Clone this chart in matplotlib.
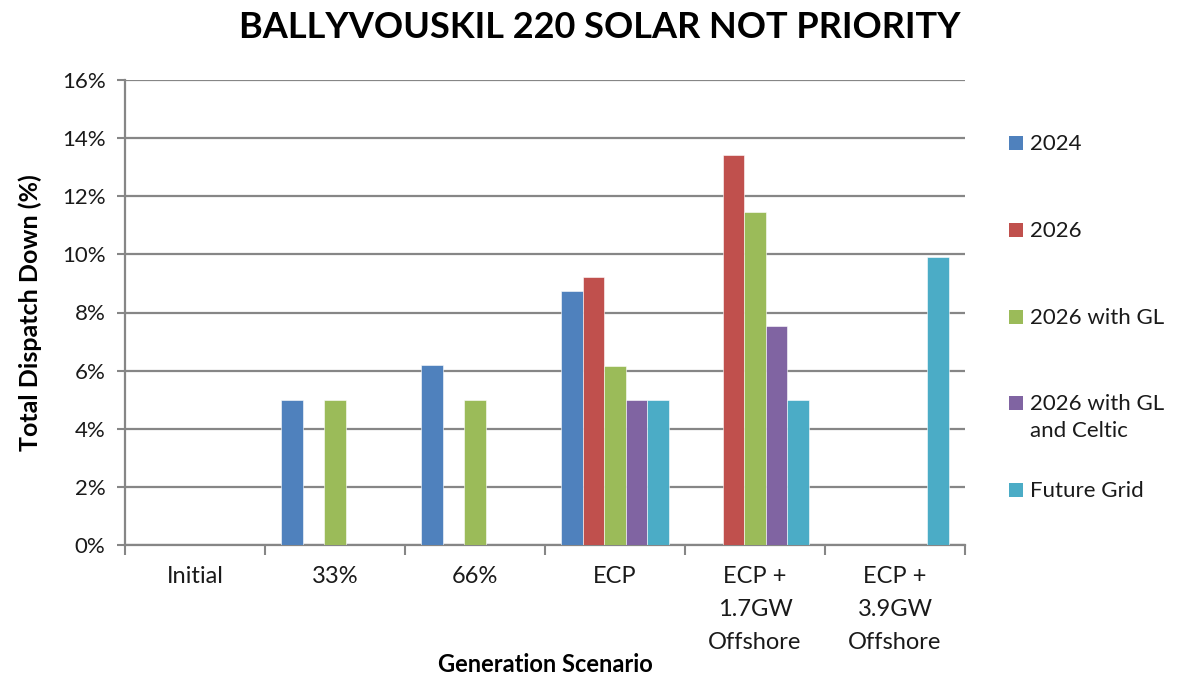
import matplotlib
matplotlib.use("Agg")
import matplotlib.pyplot as plt
from matplotlib.ticker import FuncFormatter, FixedLocator
from matplotlib.patches import Rectangle
import numpy as np

plt.rcParams['font.family'] = ['Lato', 'DejaVu Sans']

categories = ["Initial", "33%", "66%", "ECP", "ECP +\n1.7GW\nOffshore", "ECP +\n3.9GW\nOffshore"]
series_names = ["2024", "2026", "2026 with GL", "2026 with GL\nand Celtic", "Future Grid"]
colors = ["#4F81BD", "#C0504D", "#9BBB59", "#8064A2", "#4BACC6"]

# values in %, 0 = no bar
v_2024 = [0, 5.0, 6.2, 8.75, 0, 0]
v_2026 = [0, 0, 0, 9.22, 13.42, 0]
v_2026_gl = [0, 5.0, 5.0, 6.17, 11.47, 0]
v_2026_gl_celtic = [0, 0, 0, 5.0, 7.55, 0]
v_future = [0, 0, 0, 5.0, 5.0, 9.9]
all_series = [v_2024, v_2026, v_2026_gl, v_2026_gl_celtic, v_future]

W, H = 1180, 678
fig = plt.figure(figsize=(W / 100, H / 100), dpi=100)
ax = fig.add_axes([125 / W, 1 - 545 / H, (965 - 125) / W, (545 - 80) / H])

x = np.arange(len(categories))
w = 0.153
grid_c = "#868686"
for i, (vals, c) in enumerate(zip(all_series, colors)):
    off = (i - 2) * w
    ax.bar(x + off, vals, w, color=c, edgecolor="white", linewidth=0.4, zorder=3)

ax.set_xlim(-0.5, len(categories) - 0.5)
ax.set_ylim(0, 16)
ax.set_yticks(np.arange(0, 17, 2))
ax.yaxis.set_major_formatter(FuncFormatter(lambda v, p: "%d%%" % v))
ax.grid(axis="y", color=grid_c, linewidth=1.6, zorder=0)
ax.set_axisbelow(True)

ax.set_xticks(x)
ax.set_xticklabels(categories, fontsize=17, color="#1a1a1a", linespacing=1.72, va="top")
ax.xaxis.set_minor_locator(FixedLocator(np.arange(-0.5, len(categories), 1)))
ax.tick_params(axis="x", which="major", length=0, pad=15)
ax.tick_params(axis="x", which="minor", length=7, width=1.5, color=grid_c, direction="out")
ax.tick_params(axis="y", length=6, width=1.5, color=grid_c, labelsize=16, labelcolor="#1a1a1a", pad=8)

for s in ["top", "right"]:
    ax.spines[s].set_visible(False)
for s in ["left", "bottom"]:
    ax.spines[s].set_color(grid_c)
    ax.spines[s].set_linewidth(1.6)

ax.set_ylabel("Total Dispatch Down (%)", fontsize=18, fontweight="bold", labelpad=14)
ax.set_xlabel("Generation Scenario", fontsize=17, fontweight="bold", labelpad=0)
fig.text(600 / W, 1 - 28 / H, "BALLYVOUSKIL 220 SOLAR NOT PRIORITY", ha="center", va="center",
         fontsize=26, fontweight="bold")

# legend drawn by hand: handle aligned with the first text line
leg_y = [143, 230, 317, 403, 490]
for name, c, yy in zip(series_names, colors, leg_y):
    fig.patches.append(Rectangle((1009 / W, 1 - (yy + 7) / H), 14 / W, 14 / H,
                                 facecolor=c, edgecolor="none", transform=fig.transFigure))
    fig.text(1030 / W, 1 - (yy - 9) / H, name, ha="left", va="top", fontsize=16,
             color="#1a1a1a", linespacing=1.45)

fig.savefig("out.png", dpi=100)
